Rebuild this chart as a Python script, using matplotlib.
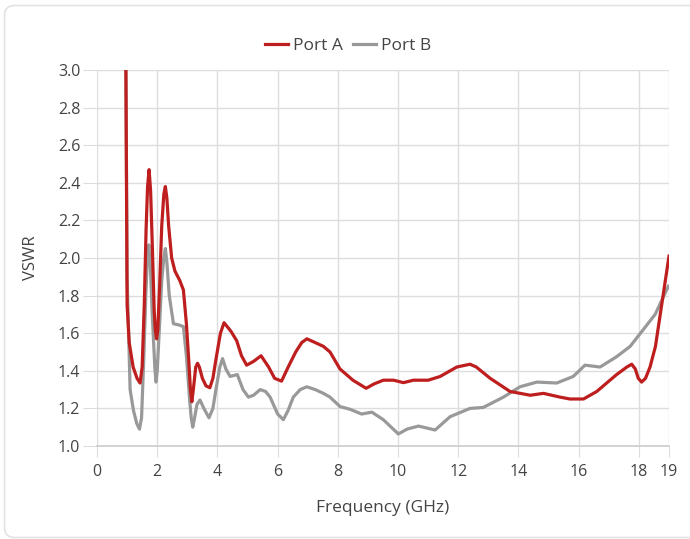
from matplotlib import pyplot as plt
import matplotlib.patches

plt.rcParams['font.family'] = ['Open Sans', 'DejaVu Sans']

# Port A (red)
freq_a = [0.95, 1.0, 1.07, 1.2, 1.33, 1.43, 1.5, 1.57, 1.63, 1.68, 1.73, 1.78,
          1.84, 1.9, 1.94, 1.98, 2.02, 2.08, 2.15, 2.22, 2.27, 2.32, 2.38, 2.48,
          2.59, 2.75, 2.87, 2.97, 3.05, 3.1, 3.15, 3.2, 3.28, 3.34, 3.4, 3.5,
          3.62, 3.75, 3.85, 3.95, 4.1, 4.22, 4.35, 4.45, 4.64, 4.8, 4.97, 5.2,
          5.45, 5.7, 5.9, 6.13, 6.35, 6.6, 6.8, 6.97, 7.25, 7.52, 7.74, 8.07,
          8.5, 8.94, 9.2, 9.51, 9.85, 10.18, 10.51, 11.0, 11.4, 11.95, 12.39,
          12.6, 13.06, 13.72, 14.39, 14.83, 15.38, 15.71, 16.16, 16.6, 17.26,
          17.6, 17.76, 17.88, 17.98, 18.09, 18.22, 18.37, 18.55, 18.7, 18.85, 19.0]
vswr_a = [3.3, 1.75, 1.55, 1.42, 1.36, 1.335, 1.42, 1.75, 2.15, 2.38, 2.47, 2.36,
          2.05, 1.72, 1.61, 1.57, 1.62, 1.85, 2.17, 2.34, 2.38, 2.32, 2.17, 2.0,
          1.93, 1.88, 1.83, 1.65, 1.45, 1.31, 1.235, 1.3, 1.42, 1.44, 1.42, 1.36,
          1.32, 1.31, 1.36, 1.46, 1.6, 1.656, 1.63, 1.61, 1.56, 1.48, 1.43, 1.45,
          1.48, 1.42, 1.36, 1.345, 1.42, 1.5, 1.55, 1.57, 1.55, 1.53, 1.50, 1.41,
          1.35, 1.307, 1.33, 1.35, 1.35, 1.337, 1.35, 1.35, 1.37, 1.42, 1.435,
          1.42, 1.36, 1.29, 1.27, 1.28, 1.26, 1.25, 1.25, 1.29, 1.38,
          1.42, 1.435, 1.41, 1.36, 1.34, 1.36, 1.42, 1.53, 1.69, 1.85, 2.01]

# Port B (grey)
freq_b = [0.95, 1.0, 1.1, 1.21, 1.32, 1.41, 1.48, 1.55, 1.62, 1.67, 1.72, 1.77,
          1.83, 1.92, 1.96, 2.0, 2.08, 2.15, 2.22, 2.27, 2.32, 2.4, 2.54, 2.7,
          2.87, 2.97, 3.08, 3.13, 3.18, 3.23, 3.32, 3.42, 3.55, 3.72, 3.85, 3.95,
          4.08, 4.17, 4.28, 4.42, 4.66, 4.85, 5.03, 5.2, 5.42, 5.6, 5.75, 6.0,
          6.19, 6.35, 6.52, 6.75, 6.97, 7.25, 7.52, 7.74, 8.07, 8.41, 8.79, 9.13,
          9.51, 10.01, 10.3, 10.68, 11.23, 11.73, 12.39, 12.83, 13.5, 14.05,
          14.61, 15.27, 15.82, 16.21, 16.71, 17.26, 17.71, 18.15, 18.54, 18.98]
vswr_b = [3.3, 1.9, 1.30, 1.19, 1.12, 1.09, 1.15, 1.45, 1.8, 1.98, 2.07, 1.97,
          1.72, 1.42, 1.34, 1.4, 1.65, 1.88, 2.0, 2.05, 1.98, 1.8, 1.65, 1.645,
          1.635, 1.48, 1.24, 1.15, 1.10, 1.14, 1.22, 1.245, 1.2, 1.15, 1.2, 1.3,
          1.42, 1.465, 1.41, 1.37, 1.38, 1.3, 1.26, 1.27, 1.30, 1.29, 1.26, 1.17,
          1.14, 1.19, 1.26, 1.3, 1.315, 1.3, 1.28, 1.26, 1.21, 1.195, 1.17, 1.18,
          1.14, 1.064, 1.09, 1.106, 1.085, 1.156, 1.20, 1.205, 1.26, 1.315,
          1.34, 1.335, 1.37, 1.43, 1.42, 1.475, 1.53, 1.62, 1.70, 1.85]

x_ticks = [0, 2, 4, 6, 8, 10, 12, 14, 16, 18, 19]
y_ticks = [1.0, 1.2, 1.4, 1.6, 1.8, 2.0, 2.2, 2.4, 2.6, 2.8, 3.0]

text_color = '#444444'
grid_color = '#dddddd'

fig = plt.figure(figsize=(6.9, 5.39), dpi=100)

# card border: left side with rounded corners, top and bottom running off the right edge
w, h = 6.9, 5.39
x0, y0, y1, r = 0.045, 0.015, 5.335, 0.1
verts = [(w + 0.1, y1), (x0 + r, y1), (x0, y1), (x0, y1 - r), (x0, y0 + r),
         (x0, y0), (x0 + r, y0), (w + 0.1, y0)]
codes = [matplotlib.path.Path.MOVETO, matplotlib.path.Path.LINETO,
         matplotlib.path.Path.CURVE3, matplotlib.path.Path.CURVE3,
         matplotlib.path.Path.LINETO, matplotlib.path.Path.CURVE3,
         matplotlib.path.Path.CURVE3, matplotlib.path.Path.LINETO]
card = matplotlib.patches.PathPatch(matplotlib.path.Path(verts, codes),
                                    transform=fig.dpi_scale_trans,
                                    facecolor='none', edgecolor='#e2e2e2', linewidth=1.2)
fig.patches.append(card)

ax = fig.add_axes((97/690, 93/539, 572/690, 376/539))

ax.plot(freq_b, vswr_b, color='#999999', linewidth=2.3, label='Port B',
        solid_joinstyle='round', zorder=3)
ax.plot(freq_a, vswr_a, color='#bf1e1e', linewidth=2.3, label='Port A',
        solid_joinstyle='round', zorder=4)

ax.set_xlim(0, 19)
ax.set_ylim(1.0, 3.0)
ax.set_xticks(x_ticks)
ax.set_xticklabels([str(t) for t in x_ticks])
ax.set_yticks(y_ticks)
ax.set_yticklabels(['{:.1f}'.format(t) for t in y_ticks])

ax.grid(True, color=grid_color, linewidth=1)
ax.set_axisbelow(True)
for side in ['top', 'right', 'left']:
    ax.spines[side].set_visible(False)
ax.spines['bottom'].set_color('#cccccc')
ax.spines['bottom'].set_linewidth(1.2)

ax.tick_params(axis='x', length=8, color=grid_color, labelsize=11.5,
               labelcolor=text_color, pad=5)
ax.tick_params(axis='y', length=10, color=grid_color, labelsize=11.5,
               labelcolor=text_color, pad=2)

ax.set_xlabel('Frequency (GHz)', fontsize=12.5, color=text_color, labelpad=14)
ax.set_ylabel('VSWR', fontsize=12, color=text_color, labelpad=14)

handles, labels = ax.get_legend_handles_labels()
fig.legend(handles[::-1], labels[::-1], loc='center', bbox_to_anchor=(0.505, 1 - 46/539),
           ncol=2, frameon=False, fontsize=12.5, handlelength=1.3, handletextpad=0.3,
           columnspacing=0.6, labelcolor=text_color)

plt.savefig('out.png', dpi=100)
